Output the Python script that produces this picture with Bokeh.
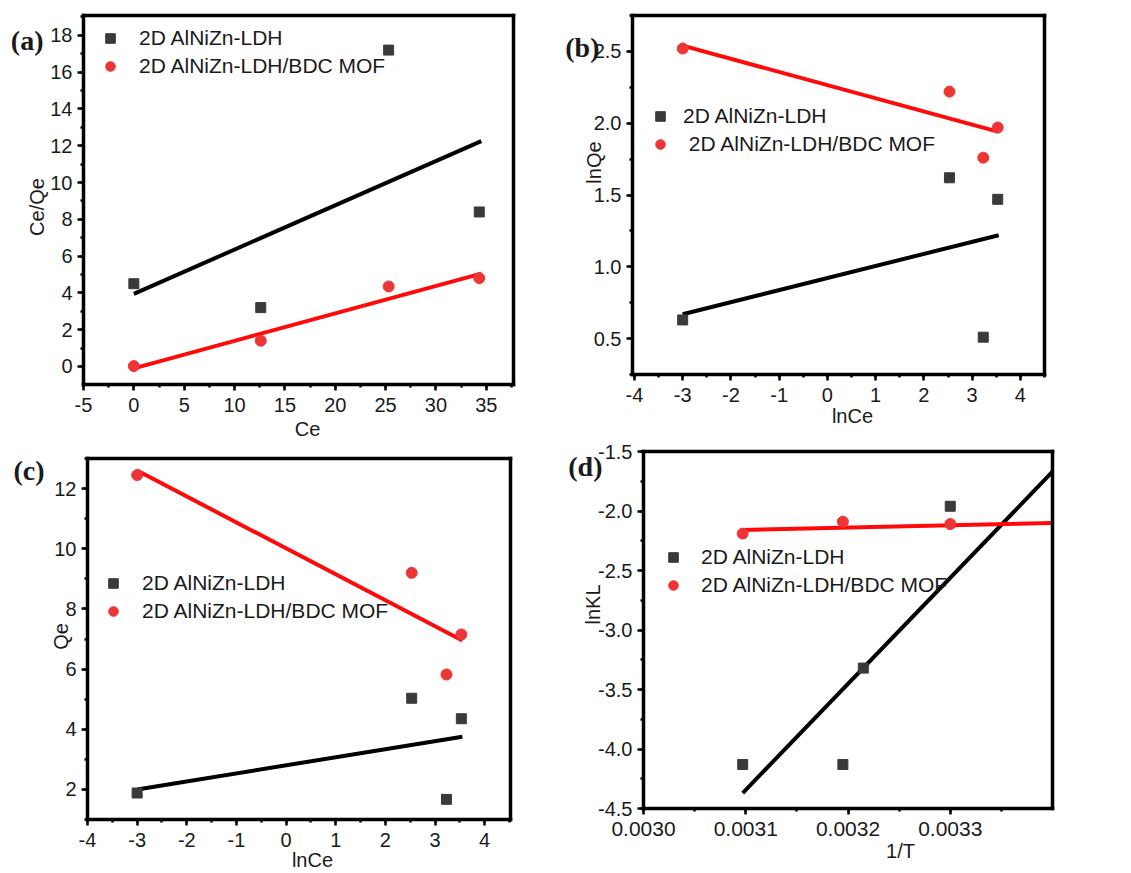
from bokeh.plotting import figure
from bokeh.layouts import column, row
from bokeh.models import (Legend, LegendItem, PrintfTickFormatter, SingleIntervalTicker, FixedTicker,
                          Range1d, LinearAxis)
from bokeh.embed import file_html
from bokeh.resources import INLINE

# ---------------- data ----------------
# (a) Langmuir
a_ce = [0.0, 12.6, 25.3, 34.3]
a_ldh = [4.5, 3.2, 17.2, 8.4]
a_mof = [0.02, 1.4, 4.35, 4.8]
a_fit_x = [0.0, 34.5]
a_fit_ldh = [3.95, 12.25]
a_fit_mof = [-0.1, 5.05]

# (b) Freundlich
b_lnce = [-3.0, 2.53, 3.23, 3.53]
b_ldh = [0.63, 1.62, 0.51, 1.47]
b_mof = [2.52, 2.22, 1.76, 1.97]
b_fit_x = [-3.0, 3.55]
b_fit_ldh = [0.67, 1.22]
b_fit_mof = [2.54, 1.94]

# (c) Temkin
c_lnce = [-3.0, 2.53, 3.23, 3.53]
c_ldh = [1.88, 5.03, 1.67, 4.35]
c_mof = [12.45, 9.2, 5.82, 7.15]
c_fit_x = [-3.0, 3.55]
c_fit_ldh = [2.0, 3.75]
c_fit_mof = [12.6, 6.95]

# (d) Van't Hoff
d_inv_t_ldh = [0.003097, 0.003195, 0.003215, 0.0033]
d_ldh = [-4.13, -4.13, -3.32, -1.96]
d_inv_t_mof = [0.003097, 0.003195, 0.0033]
d_mof = [-2.19, -2.09, -2.11]
d_fit_ldh_x = [0.003097, 0.0034]
d_fit_ldh = [-4.37, -1.67]
d_fit_mof_x = [0.003097, 0.0034]
d_fit_mof = [-2.16, -2.10]

LDH = "2D AlNiZn-LDH"
MOF = "2D AlNiZn-LDH/BDC MOF"
LETTERS = ["(a)", "(b)", "(c)", "(d)"]
X_TITLES = ["Ce", "lnCe", "lnCe", "1/T"]
Y_TITLES = ["Ce/Qe", "lnQe", "Qe", "lnKL"]

SQ_COLOR = "#3a3a3a"
RED_PT = "#ee3535"
RED_LINE = "#ff0a0a"
FONT = "Liberation Sans"
LW = 3.5


def make_fig(w, h, bl, br, bt, bb, xr, yr):
    p = figure(width=w, height=h, x_range=Range1d(*xr), y_range=Range1d(*yr),
               output_backend="svg", toolbar_location=None,
               min_border_left=bl, min_border_right=br, min_border_top=bt, min_border_bottom=bb)
    p.grid.visible = False
    p.outline_line_color = None
    p.background_fill_color = "white"
    p.border_fill_color = "white"
    xa, ya = p.below[0], p.left[0]
    for ax in (xa, ya):
        ax.axis_line_width = LW
        ax.axis_line_color = "black"
        ax.axis_line_cap = "square"
        ax.major_tick_in = 0
        ax.major_tick_out = 6
        ax.major_tick_line_width = 2.5
        ax.minor_tick_in = 0
        ax.minor_tick_out = 3
        ax.minor_tick_line_width = 2.5
        ax.major_label_text_font = FONT
        ax.major_label_text_font_size = "20px"
        ax.major_label_text_color = "#1a1a1a"
        ax.major_label_standoff = 5
    xa.major_label_standoff = 7
    # top and right edges of the box
    for side in ("above", "right"):
        edge = LinearAxis(ticker=FixedTicker(ticks=[], minor_ticks=[]), axis_line_width=LW,
                          axis_line_cap="square", major_tick_out=0, minor_tick_out=0,
                          major_label_standoff=0, axis_label_standoff=0,
                          major_label_text_font_size="1px")
        p.add_layout(edge, side)
    p.tags = [bl, w - br, bt, h - bb]
    return p, xa, ya


def px_to_data(p, px, py):
    fx0, fx1, fy0, fy1 = p.tags
    xr, yr = p.x_range, p.y_range
    x = xr.start + (px - fx0) * (xr.end - xr.start) / (fx1 - fx0)
    y = yr.end - (py - fy0) * (yr.end - yr.start) / (fy1 - fy0)
    return x, y


def text_axis(p, side, pos, text, standoff, font, size, style="normal", orientation="horizontal"):
    # an extra axis, without line or ticks, whose single tick label is a title text
    ax = LinearAxis(ticker=FixedTicker(ticks=[pos], minor_ticks=[]), axis_line_color=None,
                    major_tick_out=0, major_tick_in=0, minor_tick_out=0, minor_tick_in=0,
                    major_label_standoff=standoff, major_label_overrides={pos: text},
                    major_label_orientation=orientation,
                    major_label_text_font=font, major_label_text_font_style=style,
                    major_label_text_font_size=size, major_label_text_color="#1a1a1a")
    p.add_layout(ax, side)


def titles(p, i, xlab_px, xlab_s, ylab_py, ylab_s, letter_py, letter_s):
    xx, _ = px_to_data(p, xlab_px, 0)
    _, yy = px_to_data(p, 0, ylab_py)
    _, yl = px_to_data(p, 0, letter_py)
    text_axis(p, "below", xx, X_TITLES[i], xlab_s, FONT, "20px")
    text_axis(p, "left", yy, Y_TITLES[i], ylab_s, FONT, "20px", orientation="parallel")
    text_axis(p, "left", yl, LETTERS[i], letter_s, "Liberation Serif", "28px", style="bold")


def add_data(p, xs_l, ys_l, xs_m, ys_m, fx_l, fy_l, fx_m, fy_m, loc, standoff, mof_label):
    p.line(fx_l, fy_l, line_color="black", line_width=4)
    p.line(fx_m, fy_m, line_color=RED_LINE, line_width=4)
    r1 = p.scatter(xs_l, ys_l, marker="square", size=10, fill_color=SQ_COLOR, line_color=SQ_COLOR)
    r2 = p.scatter(xs_m, ys_m, marker="circle", size=11, fill_color=RED_PT, line_color=RED_PT)
    leg = Legend(items=[LegendItem(label=LDH, renderers=[r1]), LegendItem(label=mof_label, renderers=[r2])],
                 location=loc, border_line_color=None, background_fill_alpha=0,
                 padding=0, margin=0, spacing=4, glyph_width=24, glyph_height=24, label_height=24,
                 label_standoff=standoff, label_text_font=FONT, label_text_font_size="21px",
                 label_text_color="#1a1a1a")
    p.add_layout(leg)


H1 = 442
H2 = 873 - H1

# (a)
pa, ax_x, ax_y = make_fig(560, H1, 83, 47, 15, 57, (-5, 37.7), (-0.98, 19.08))
ax_x.ticker = SingleIntervalTicker(interval=5, num_minor_ticks=2)
ax_y.ticker = SingleIntervalTicker(interval=2, num_minor_ticks=2)
ax_x.formatter = PrintfTickFormatter(format="%d")
ax_y.formatter = PrintfTickFormatter(format="%d")
add_data(pa, a_ce, a_ldh, a_ce, a_mof, a_fit_x, a_fit_ldh, a_fit_x, a_fit_mof, (15, 306), 17, MOF)
titles(pa, 0, 307, 3, 207, -1, 40, -20)

# (b)
pb, ax_x, ax_y = make_fig(571, H1, 72, 87, 15, 68, (-4.04, 4.5), (0.25, 2.75))
ax_x.ticker = SingleIntervalTicker(interval=1, num_minor_ticks=2)
ax_y.ticker = SingleIntervalTicker(interval=0.5, num_minor_ticks=2)
ax_x.formatter = PrintfTickFormatter(format="%d")
ax_y.formatter = PrintfTickFormatter(format="%.1f")
add_data(pb, b_lnce, b_ldh, b_lnce, b_mof, b_fit_x, b_fit_ldh, b_fit_x, b_fit_mof, (16, 218), 11, " " + MOF)
titles(pb, 1, 852 - 560, 0, 162, -14, 47, -20)

# (c)
pc, ax_x, ax_y = make_fig(560, H2, 87, 50, 458 - H1, 52, (-4, 4.52), (1.0, 13.0))
ax_x.ticker = SingleIntervalTicker(interval=1, num_minor_ticks=2)
ax_y.ticker = SingleIntervalTicker(interval=2, num_minor_ticks=2)
ax_x.formatter = PrintfTickFormatter(format="%d")
ax_y.formatter = PrintfTickFormatter(format="%d")
add_data(pc, c_lnce, c_ldh, c_lnce, c_mof, c_fit_x, c_fit_ldh, c_fit_x, c_fit_mof, (14, 196), 17, MOF)
titles(pc, 2, 312, -1, 637 - H1, -21, 470 - H1, 3)

# (d)
pd_, ax_x, ax_y = make_fig(571, H2, 83, 79, 451 - H1, 65, (0.0030, 0.0034), (-4.5, -1.5))
ax_x.ticker = SingleIntervalTicker(interval=0.0001, num_minor_ticks=2)
ax_y.ticker = SingleIntervalTicker(interval=0.5, num_minor_ticks=2)
ax_x.formatter = PrintfTickFormatter(format="%.4f")
ax_y.formatter = PrintfTickFormatter(format="%.1f")
ax_x.major_label_text_font_size = "21px"
add_data(pd_, d_inv_t_ldh, d_ldh, d_inv_t_mof, d_mof, d_fit_ldh_x, d_fit_ldh, d_fit_mof_x, d_fit_mof,
         (18, 211), 16, MOF)
titles(pd_, 3, 900 - 560, 1, 604 - H1, -8, 466 - H1, -24)

layout = column(row(column(pa), column(pb)), row(column(pc), column(pd_)))
open("out.html", "w").write(file_html(layout, INLINE))
